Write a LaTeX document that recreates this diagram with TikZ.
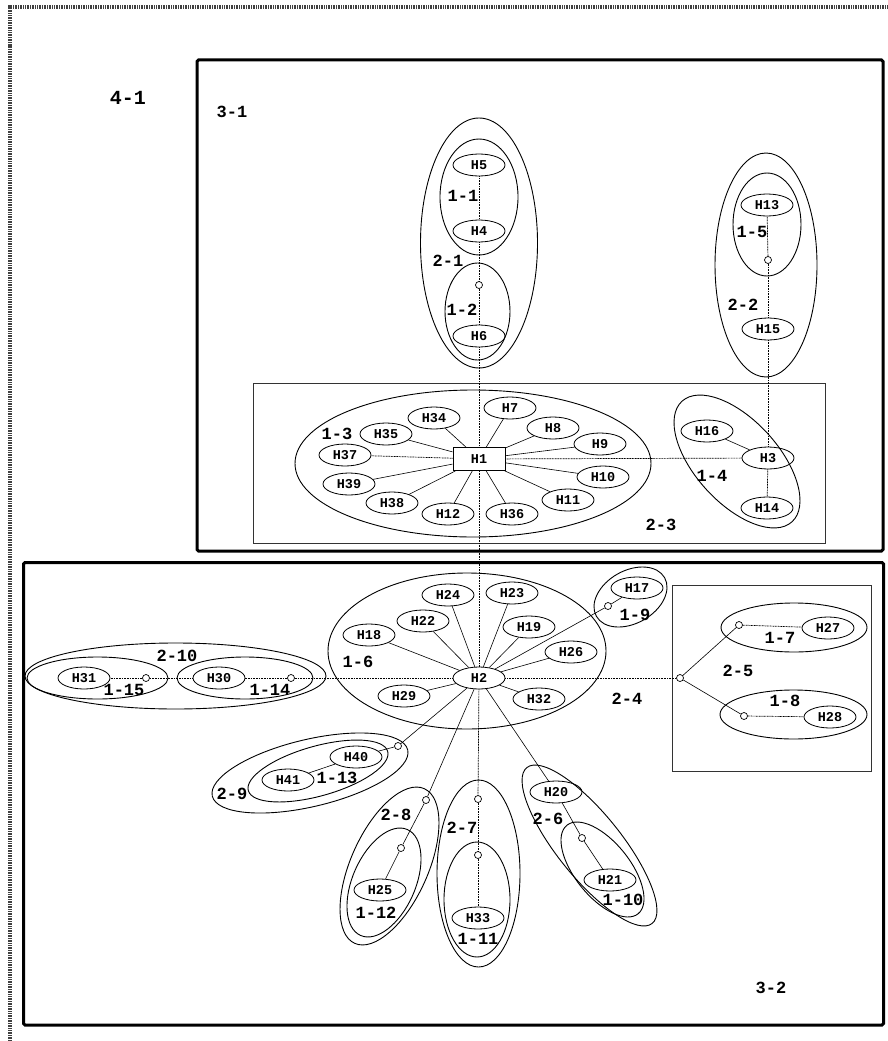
\documentclass[tikz,border=0pt]{standalone}
\usepackage{fontspec}
\setmainfont{Liberation Mono}
\usetikzlibrary{shapes.geometric}
\begin{document}
\begin{tikzpicture}[x=1pt,y=-1pt,
  hn/.style={ellipse,draw,line width=0.8pt,minimum width=52pt,minimum height=22pt,inner sep=0pt,font=\bfseries\fontsize{13.5}{13.5}\selectfont},
  hr/.style={rectangle,draw,line width=0.8pt,minimum width=52pt,minimum height=23pt,inner sep=0pt,font=\bfseries\fontsize{13.5}{13.5}\selectfont},
  jn/.style={circle,draw,fill=white,minimum size=7pt,inner sep=0pt,line width=0.7pt},
  gl/.style={font=\bfseries\fontsize{17}{17}\selectfont,inner sep=0pt},
  grp/.style={line width=0.9pt},
  ln/.style={line width=0.6pt},
  ax/.style={line width=0.7pt,dash pattern=on 1pt off 0.6pt},
  bigbox/.style={line width=3pt,rounded corners=1.5pt},
  midbox/.style={line width=0.9pt,draw=black!80},
  outer/.style={line width=3.5pt,draw=black!75,dash pattern=on 1pt off 0.7pt}
]
\useasboundingbox (0,0) rectangle (887,1041);
% outer frame 4-1
\draw[outer] (10,1041) -- (10,7) -- (887,7);
\node[gl,font=\bfseries\fontsize{20}{20}\selectfont] (l41) at (128,98) {4-1};
% boxes
\draw[bigbox] (197,60) rectangle (883,551);
\node[gl] (l31) at (232,112) {3-1};
\draw[bigbox] (23.5,562.5) rectangle (883.5,1025);
\node[gl] (l32) at (771,988) {3-2};
\draw[midbox] (253,383) rectangle (825,543);
\node[gl] (l23) at (661,525) {2-3};
\draw[midbox] (672,585) rectangle (871,771);
\node[gl] (l25) at (738,671) {2-5};

% group ellipses
\draw[grp] (479,243) ellipse [x radius=58.5, y radius=125];
\draw[grp] (479,197) ellipse [x radius=39, y radius=58];
\draw[grp] (477.5,311.5) ellipse [x radius=32.5, y radius=48.5];
\draw[grp] (766,265) ellipse [x radius=51, y radius=112];
\draw[grp] (767,224.5) ellipse [x radius=34, y radius=51.5];
\draw[grp] (473,463.5) ellipse [x radius=178, y radius=73.5];
\draw[grp,rotate around={-47.6:(737,461.5)}] (737,461.5) ellipse [x radius=81.6, y radius=41.5];
\draw[grp] (467,651) ellipse [x radius=139, y radius=78];
\draw[grp,rotate around={29.5:(630.5,597)}] (630.5,597) ellipse [x radius=39.2, y radius=26.4];
\draw[grp] (794,627.5) ellipse [x radius=73, y radius=24.5];
\draw[grp] (793.5,714.5) ellipse [x radius=73.5, y radius=24.5];
\draw[grp] (97.5,678) ellipse [x radius=70.5, y radius=21];
\draw[grp] (245,678) ellipse [x radius=68, y radius=21];
\draw[grp] (175.5,676) ellipse [x radius=150.5, y radius=33];
\draw[grp,rotate around={15.7:(318,771)}] (318,771) ellipse [x radius=72.4, y radius=24.9];
\draw[grp,rotate around={13.3:(310,773)}] (310,773) ellipse [x radius=100.4, y radius=33.6];
\draw[grp,rotate around={66.2:(384,882.5)}] (384,882.5) ellipse [x radius=57.9, y radius=31.4];
\draw[grp,rotate around={65.8:(389.5,866)}] (389.5,866) ellipse [x radius=84.8, y radius=38.6];
\draw[grp] (478.5,873.5) ellipse [x radius=41.5, y radius=93.5];
\draw[grp] (477,899.5) ellipse [x radius=33, y radius=57.5];
\draw[grp,rotate around={-51.2:(602.5,869.5)}] (602.5,869.5) ellipse [x radius=56.8, y radius=27.4];
\draw[grp,rotate around={-51.2:(589.5,845.5)}] (589.5,845.5) ellipse [x radius=100, y radius=32];

% group labels
\node[gl] (g11) at (463,196) {1-1};
\node[gl] (g21) at (448,261) {2-1};
\node[gl] (g12) at (462,310) {1-2};
\node[gl] (g15) at (752,232) {1-5};
\node[gl] (g22) at (743,305) {2-2};
\node[gl] (g13) at (337,434) {1-3};
\node[gl] (g14) at (712,476) {1-4};
\node[gl] (g16) at (358,662) {1-6};
\node[gl] (g24) at (627,699) {2-4};
\node[gl] (g19) at (635,615) {1-9};
\node[gl] (g17) at (780,638) {1-7};
\node[gl] (g18) at (785,701) {1-8};
\node[gl] (g210) at (177,656) {2-10};
\node[gl] (g115) at (124,690) {1-15};
\node[gl] (g114) at (270,690) {1-14};
\node[gl] (g29) at (232,794) {2-9};
\node[gl] (g113) at (337,778) {1-13};
\node[gl] (g28) at (396,815) {2-8};
\node[gl] (g112) at (376,913) {1-12};
\node[gl] (g27) at (462,828) {2-7};
\node[gl] (g111) at (478,939) {1-11};
\node[gl] (g26) at (548,819) {2-6};
\node[gl] (g110) at (623,900) {1-10};

% host nodes
\node[hn] (H5) at (479,165) {H5};
\node[hn] (H4) at (479,231) {H4};
\node[hn] (H6) at (479,336) {H6};
\node[hn] (H13) at (767,205) {H13};
\node[hn] (H15) at (768,329) {H15};
\node[hr] (H1) at (479,459) {H1};
\node[hn] (H34) at (434,418) {H34};
\node[hn] (H35) at (386,434) {H35};
\node[hn] (H37) at (345,455) {H37};
\node[hn] (H39) at (349,484) {H39};
\node[hn] (H38) at (392,503) {H38};
\node[hn] (H12) at (448,514) {H12};
\node[hn] (H36) at (512,514) {H36};
\node[hn] (H7) at (510,408) {H7};
\node[hn] (H8) at (553,428) {H8};
\node[hn] (H9) at (600,444) {H9};
\node[hn] (H10) at (603,477) {H10};
\node[hn] (H11) at (568,500) {H11};
\node[hn] (H3) at (768,458) {H3};
\node[hn] (H16) at (707,431) {H16};
\node[hn] (H14) at (767,508) {H14};
\node[hn] (H2) at (479,678) {H2};
\node[hn] (H24) at (448,595) {H24};
\node[hn] (H23) at (512,593) {H23};
\node[hn] (H22) at (423,621) {H22};
\node[hn] (H19) at (529,627) {H19};
\node[hn] (H18) at (369,635) {H18};
\node[hn] (H26) at (571,652) {H26};
\node[hn] (H29) at (404,696) {H29};
\node[hn] (H32) at (539,699) {H32};
\node[hn] (H17) at (637,588) {H17};
\node[hn] (H27) at (828,628) {H27};
\node[hn] (H28) at (830,717) {H28};
\node[hn] (H31) at (84,678) {H31};
\node[hn] (H30) at (219,678) {H30};
\node[hn] (H40) at (356,757) {H40};
\node[hn] (H41) at (288,780) {H41};
\node[hn] (H25) at (380,890) {H25};
\node[hn] (H33) at (478,918) {H33};
\node[hn] (H20) at (556,792) {H20};
\node[hn] (H21) at (610,880) {H21};

% junctions
\node[jn] (j12) at (479,285) {};
\node[jn] (j15) at (768,260) {};
\node[jn] (j19) at (608,606) {};
\node[jn] (j25) at (680,678) {};
\node[jn] (j17) at (739,625) {};
\node[jn] (j18) at (744,716) {};
\node[jn] (j115) at (146,678) {};
\node[jn] (j114) at (291,678) {};
\node[jn] (j29) at (398,746) {};
\node[jn] (j28) at (426,800) {};
\node[jn] (j112) at (401,848) {};
\node[jn] (j27) at (478,799) {};
\node[jn] (j111) at (478,855) {};
\node[jn] (j110) at (582,838) {};

% connectors
\draw[ax] (H5) -- (H4);
\draw[ax] (H4) -- (j12);
\draw[ax] (j12) -- (H6);
\draw[ax] (H6) -- (H1);
\draw[ax] (H1) -- (H2);
\draw[ax] (H1) -- (H3);
\draw[ax] (H3) -- (H15);
\draw[ax] (H15) -- (j15);
\draw[ax] (j15) -- (H13);
\draw[ax] (H3) -- (H14);
\draw[ln] (H3) -- (H16);
\draw[ln] (H1) -- (H34);
\draw[ln] (H1) -- (H35);
\draw[ax] (H1) -- (H37);
\draw[ln] (H1) -- (H39);
\draw[ln] (H1) -- (H38);
\draw[ln] (H1) -- (H12);
\draw[ln] (H1) -- (H36);
\draw[ln] (H1) -- (H7);
\draw[ln] (H1) -- (H8);
\draw[ln] (H1) -- (H9);
\draw[ln] (H1) -- (H10);
\draw[ln] (H1) -- (H11);

\draw[ln] (H2) -- (H24);
\draw[ln] (H2) -- (H23);
\draw[ln] (H2) -- (H22);
\draw[ln] (H2) -- (H19);
\draw[ln] (H2) -- (H18);
\draw[ln] (H2) -- (H26);
\draw[ln] (H2) -- (H29);
\draw[ln] (H2) -- (H32);
\draw[ln] (H2) -- (j19);
\draw[ln] (j19) -- (H17);
\draw[ax] (H2) -- (j25);
\draw[ln] (j25) -- (j17);
\draw[ln] (j25) -- (j18);
\draw[ax] (j17) -- (H27);
\draw[ax] (j18) -- (H28);
\draw[ax] (H2) -- (j114);
\draw[ax] (j114) -- (H30);
\draw[ax] (H30) -- (j115);
\draw[ax] (j115) -- (H31);
\draw[ln] (H2) -- (j29);
\draw[ln] (j29) -- (H40);
\draw[ln] (H40) -- (H41);
\draw[ln] (H2) -- (j28);
\draw[ln] (j28) -- (j112);
\draw[ln] (j112) -- (H25);
\draw[ax] (H2) -- (j27);
\draw[ax] (j27) -- (j111);
\draw[ax] (j111) -- (H33);
\draw[ln] (H2) -- (H20);
\draw[ln] (H20) -- (j110);
\draw[ln] (j110) -- (H21);
\end{tikzpicture}
\end{document}
